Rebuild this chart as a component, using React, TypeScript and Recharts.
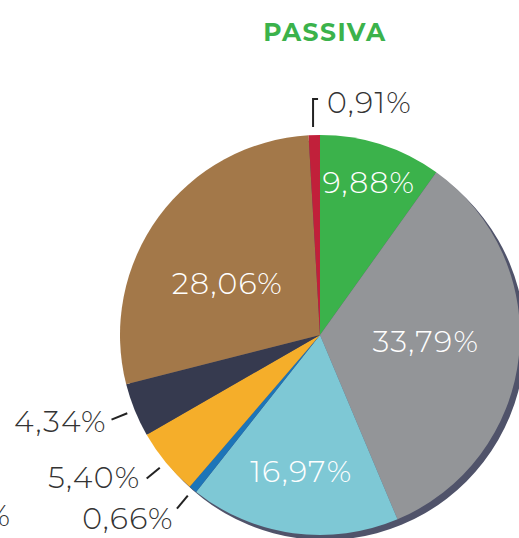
import React from "react";
import { PieChart, Pie, Cell } from "recharts";

const categories = ["A", "B", "C", "D", "E", "F", "G", "H"];
const values = [9.88, 33.79, 16.97, 0.66, 5.4, 4.34, 28.06, 0.91];
const labels = ["9,88%", "33,79%", "16,97%", "0,66%", "5,40%", "4,34%", "28,06%", "0,91%"];
const title = "PASSIVA";
const strayLabel = "%";

const colors = ["#3bb24b", "#939598", "#7ec8d5", "#1d75b8", "#f5ae2a", "#363a4f", "#a37849", "#c1203a"];
// label style per slice: inside (radius fraction, angle shift deg), outer (radial gap, vertical nudge), or bracket
const labelStyle: { kind: string; r?: number; shift?: number; out?: number; dy?: number }[] = [
  { kind: "in", r: 0.8, shift: 0 },
  { kind: "in", r: 0.53, shift: -3 },
  { kind: "in", r: 0.69, shift: 0 },
  { kind: "out", out: 30, dy: 6 },
  { kind: "out", out: 33, dy: -6 },
  { kind: "out", out: 30, dy: 0 },
  { kind: "in", r: 0.53, shift: -7 },
  { kind: "bracket" },
];

const data = categories.map((c, i) => ({ name: c, value: values[i], label: labels[i] }));
const shadowData = [{ name: "shadow", value: 1 }];

const FONT = "Montserrat, 'Open Sans', sans-serif";
const RAD = Math.PI / 180;
const LS = 1.3;

const renderLabel = (props: any) => {
  const { cx, cy, midAngle, outerRadius, index } = props;
  const st = labelStyle[index];
  const text = labels[index];
  if (st.kind === "in") {
    const a = (midAngle - (st.shift || 0)) * RAD;
    const r = outerRadius * (st.r || 0.6);
    const x = cx + r * Math.cos(a);
    const y = cy - r * Math.sin(a);
    return (
      <text key={index} x={x} y={y} fill="#ffffff" textAnchor="middle" dominantBaseline="central"
        fontFamily={FONT} fontWeight={300} fontSize={30} letterSpacing={LS}>
        {text}
      </text>
    );
  }
  if (st.kind === "out") {
    const a = midAngle * RAD;
    const p = (r: number) => [cx + r * Math.cos(a), cy - r * Math.sin(a)];
    const [x1, y1] = p(outerRadius + 8);
    const [x2, y2] = p(outerRadius + 25);
    const [tx, ty] = p(outerRadius + (st.out || 32));
    return (
      <g key={index}>
        <line x1={x1} y1={y1} x2={x2} y2={y2} stroke="#222" strokeWidth={2} />
        <text x={tx} y={ty + (st.dy || 0)} fill="#333" textAnchor="end" dominantBaseline="central"
          fontFamily={FONT} fontWeight={300} fontSize={30} letterSpacing={LS}>
          {text}
        </text>
      </g>
    );
  }
  // bracket
  const a = midAngle * RAD;
  const bx = cx + (outerRadius + 8) * Math.cos(a) - 1;
  const by = cy - (outerRadius + 8) * Math.sin(a);
  const topY = by - 28;
  return (
    <g key={index}>
      <path d={`M${bx},${by} L${bx},${topY} L${bx + 5},${topY}`} stroke="#222" strokeWidth={2} fill="none" />
      <text x={bx + 14} y={topY + 3} fill="#333" textAnchor="start" dominantBaseline="central"
        fontFamily={FONT} fontWeight={300} fontSize={30} letterSpacing={LS}>
        {text}
      </text>
    </g>
  );
};

export default function App() {
  return (
    <div style={{ position: "fixed", left: 0, top: 0, width: 519, height: 538, background: "#fff" }}>
      <PieChart width={519} height={538} margin={{ top: 0, right: 0, bottom: 0, left: 0 }}>
        <text x={325} y={32} textAnchor="middle" dominantBaseline="central" fill="#3bb24b"
          fontFamily={FONT} fontWeight={700} fontSize={25} letterSpacing={1.5}>
          {title}
        </text>
        <text x={10} y={515} textAnchor="end" dominantBaseline="central" fill="#333"
          fontFamily={FONT} fontWeight={300} fontSize={30}>
          {strayLabel}
        </text>
        <Pie data={shadowData} dataKey="value" cx={325} cy={340} outerRadius={200}
          startAngle={90} endAngle={-270} isAnimationActive={false} stroke="none" fill="#50536a" />
        <Pie data={data} dataKey="value" nameKey="name" cx={320} cy={335} outerRadius={200}
          startAngle={90} endAngle={-270} isAnimationActive={false} stroke="none"
          label={renderLabel} labelLine={false}>
          {data.map((d, i) => (
            <Cell key={d.name} fill={colors[i]} />
          ))}
        </Pie>
      </PieChart>
    </div>
  );
}
